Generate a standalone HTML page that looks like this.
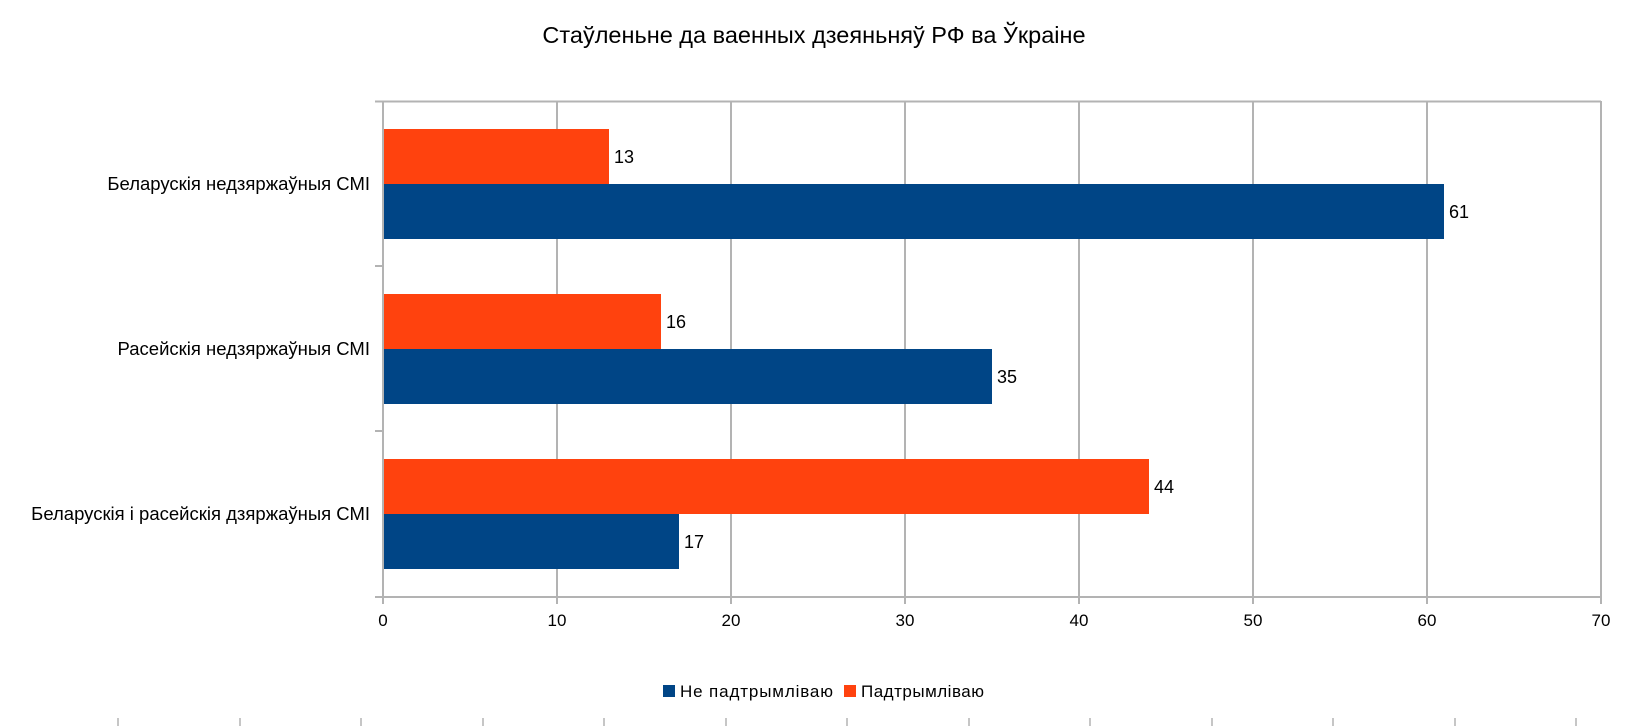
<!DOCTYPE html>
<html><head><meta charset="utf-8"><style>
html,body{margin:0;padding:0;background:#fff}
svg{display:block}
text{font-family:"Liberation Sans",sans-serif;fill:#000}
</style></head><body>
<svg width="1638" height="726" viewBox="0 0 1638 726" xmlns="http://www.w3.org/2000/svg">
<text x="814" y="43" font-size="23.5" text-anchor="middle">Стаўленьне да ваенных дзеяньняў РФ ва Ўкраіне</text>
<g stroke="#b3b3b3" stroke-width="2">
<line x1="383" y1="101.5" x2="1601" y2="101.5"/>
<line x1="557" y1="101" x2="557" y2="604"/>
<line x1="731" y1="101" x2="731" y2="604"/>
<line x1="905" y1="101" x2="905" y2="604"/>
<line x1="1079" y1="101" x2="1079" y2="604"/>
<line x1="1253" y1="101" x2="1253" y2="604"/>
<line x1="1427" y1="101" x2="1427" y2="604"/>
<line x1="1601" y1="101" x2="1601" y2="604"/>
<line x1="383" y1="101" x2="383" y2="604"/>
<line x1="375" y1="597" x2="1601" y2="597"/>
<line x1="375" y1="101.5" x2="383" y2="101.5"/>
<line x1="375" y1="266" x2="383" y2="266"/>
<line x1="375" y1="431" x2="383" y2="431"/>
</g>
<rect x="384" y="129" width="225" height="55" fill="#ff420e"/>
<rect x="384" y="184" width="1060" height="55" fill="#004586"/>
<rect x="384" y="294" width="277" height="55" fill="#ff420e"/>
<rect x="384" y="349" width="608" height="55" fill="#004586"/>
<rect x="384" y="459" width="765" height="55" fill="#ff420e"/>
<rect x="384" y="514" width="295" height="55" fill="#004586"/>
<g font-size="18">
<text x="614" y="163">13</text>
<text x="1449" y="218">61</text>
<text x="666" y="328">16</text>
<text x="997" y="383">35</text>
<text x="1154" y="493">44</text>
<text x="684" y="548">17</text>
</g>
<g font-size="18.5" text-anchor="end">
<text x="370" y="190">Беларускія недзяржаўныя СМІ</text>
<text x="370" y="355">Расейскія недзяржаўныя СМІ</text>
<text x="370" y="520">Беларускія і расейскія дзяржаўныя СМІ</text>
</g>
<g font-size="17" text-anchor="middle">
<text x="383" y="626">0</text><text x="557" y="626">10</text><text x="731" y="626">20</text>
<text x="905" y="626">30</text><text x="1079" y="626">40</text><text x="1253" y="626">50</text>
<text x="1427" y="626">60</text><text x="1601" y="626">70</text>
</g>
<rect x="663" y="685" width="12" height="12" fill="#004586"/>
<text x="680" y="697" font-size="17" textLength="153">Не падтрымліваю</text>
<rect x="844" y="685" width="12" height="12" fill="#ff420e"/>
<text x="861" y="697" font-size="17" textLength="123">Падтрымліваю</text>
<g stroke="#b3b3b3" stroke-width="1.5">
<line x1="118" y1="718" x2="118" y2="726"/><line x1="240" y1="718" x2="240" y2="726"/>
<line x1="361" y1="718" x2="361" y2="726"/><line x1="483" y1="718" x2="483" y2="726"/>
<line x1="604" y1="718" x2="604" y2="726"/><line x1="726" y1="718" x2="726" y2="726"/>
<line x1="847" y1="718" x2="847" y2="726"/><line x1="969" y1="718" x2="969" y2="726"/>
<line x1="1090" y1="718" x2="1090" y2="726"/><line x1="1212" y1="718" x2="1212" y2="726"/>
<line x1="1333" y1="718" x2="1333" y2="726"/><line x1="1455" y1="718" x2="1455" y2="726"/>
<line x1="1576" y1="718" x2="1576" y2="726"/>
</g>
</svg>
</body></html>
